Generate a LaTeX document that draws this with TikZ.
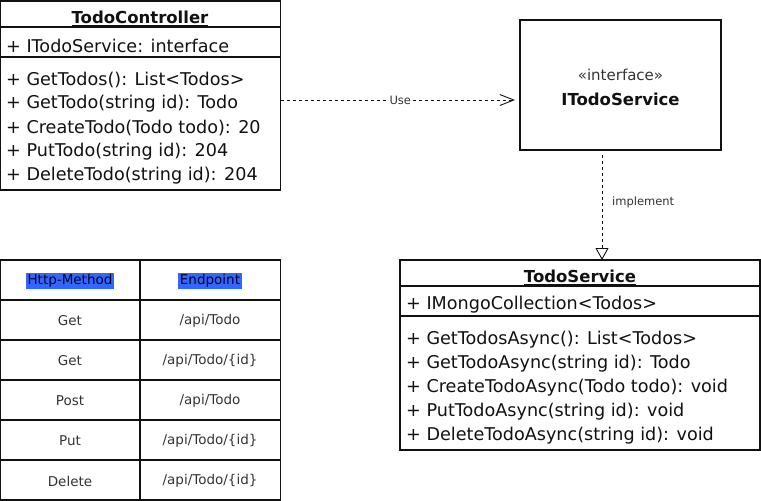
\documentclass[tikz,border=0pt]{standalone}
\usepackage{fontspec}
\setmainfont{DejaVu Sans}
\usetikzlibrary{arrows.meta}
\definecolor{ink}{HTML}{111111}
\definecolor{gr}{HTML}{333333}
\definecolor{hl}{HTML}{3366FF}
\begin{document}
\begin{tikzpicture}[x=1pt,y=-1pt,
  box/.style={draw=ink,line width=1.2pt,rectangle,inner sep=0pt,outer sep=0pt,anchor=north west},
  sep/.style={draw=ink,line width=1.2pt},
  member/.style={anchor=west,inner sep=0pt,text=ink,font=\fontsize{17.6}{20}\selectfont},
  ttl/.style={inner sep=0pt,text=ink,font=\bfseries\fontsize{16.5}{19}\selectfont},
  cell/.style={inner sep=0pt,text=gr,font=\fontsize{13.5}{15}\selectfont},
  hcell/.style={inner sep=1.5pt,fill=hl,text=black!85!blue,font=\fontsize{13.5}{15}\selectfont},
  lbl/.style={inner sep=1pt,fill=white,text=gr,font=\fontsize{11.5}{13}\selectfont},
  dep/.style={draw=ink,line width=0.9pt,dash pattern=on 3pt off 3pt}]
\useasboundingbox (0,0) rectangle (761,501);

% TodoController
\node[box,minimum width=280,minimum height=189] (ctrl) at (0.6,1) {};
\draw[sep] (ctrl.west |- 0,27) -- (ctrl.east |- 0,27);
\draw[sep] (ctrl.west |- 0,57) -- (ctrl.east |- 0,57);
\node[ttl] (ctrlT) at (140,18) {\underline{TodoController}};
\node[member] (ca) at (6,46) {+ ITodoService: interface};
\node[member] (c1) at (6,80) {+ GetTodos(): List<Todos>};
\node[member] (c2) at (6,104) {+ GetTodo(string id): Todo};
\node[member] (c3) at (6,128) {+ CreateTodo(Todo todo): 20};
\node[member] (c4) at (6,152) {+ PutTodo(string id): 204};
\node[member] (c5) at (6,176) {+ DeleteTodo(string id): 204};

% Interface
\node[box,minimum width=201,minimum height=130] (iface) at (520,20) {};
\node[inner sep=0pt,text=gr,font=\fontsize{15}{18}\selectfont] (ifS) at (620.5,75) {«interface»};
\node[inner sep=0pt,text=ink,font=\bfseries\fontsize{16.5}{19}\selectfont] (ifN) at (620.5,99) {ITodoService};

% TodoService
\node[box,minimum width=360,minimum height=190] (svc) at (400,260) {};
\draw[sep] (svc.west |- 0,286) -- (svc.east |- 0,286);
\draw[sep] (svc.west |- 0,316) -- (svc.east |- 0,316);
\node[ttl] (svcT) at (580,277) {\underline{TodoService}};
\node[member] (sa) at (406,305) {+ IMongoCollection<Todos>};
\node[member] (s1) at (406,340) {+ GetTodosAsync(): List<Todos>};
\node[member] (s2) at (406,364) {+ GetTodoAsync(string id): Todo};
\node[member] (s3) at (406,388) {+ CreateTodoAsync(Todo todo): void};
\node[member] (s4) at (406,412) {+ PutTodoAsync(string id): void};
\node[member] (s5) at (406,436) {+ DeleteTodoAsync(string id): void};

% connectors
\draw[dep,-{Straight Barb[length=14pt,width=11pt,line width=0.9pt]},shorten >=5pt]
  (ctrl.east |- 0,100) -- node[lbl] (use) {Use} (iface.west |- 0,100);
\draw[dep,-{Triangle[open,length=12pt,width=13pt,line width=0.9pt]},shorten <=5pt]
  (iface.south -| 602,0) -- (svc.north -| 602,0);
\node[lbl,anchor=west] (impl) at (611,202) {implement};

% Table
\node[box,minimum width=280,minimum height=240] (tbl) at (0.6,260) {};
\draw[sep] (140,260) -- (140,500);
\foreach \yy in {300,340,380,420,460} \draw[sep] (tbl.west |- 0,\yy) -- (tbl.east |- 0,\yy);
\node[hcell] (h1) at (70,281) {Http-Method};
\node[hcell] (h2) at (210,281) {Endpoint};
\node[cell] (m1) at (70,321) {Get};
\node[cell] (e1) at (210,321) {/api/Todo};
\node[cell] (m2) at (70,361) {Get};
\node[cell] (e2) at (210,361) {/api/Todo/\{id\}};
\node[cell] (m3) at (70,401) {Post};
\node[cell] (e3) at (210,401) {/api/Todo};
\node[cell] (m4) at (70,441) {Put};
\node[cell] (e4) at (210,441) {/api/Todo/\{id\}};
\node[cell] (m5) at (70,481) {Delete};
\node[cell] (e5) at (210,481) {/api/Todo/\{id\}};
\end{tikzpicture}
\end{document}
